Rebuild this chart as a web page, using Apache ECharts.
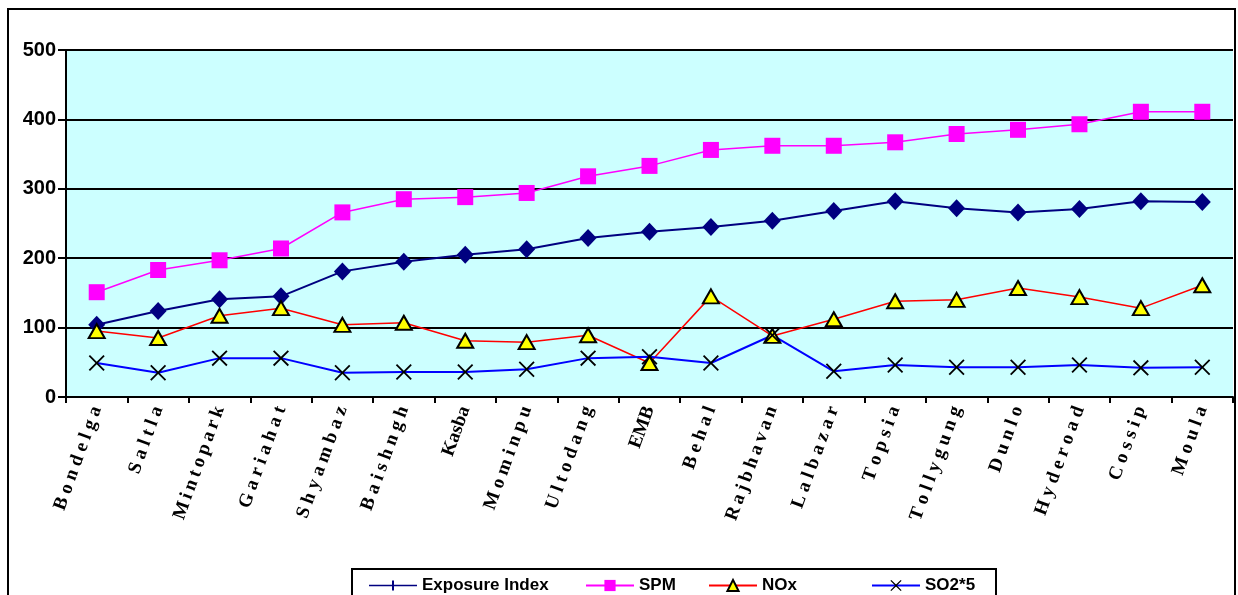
<!DOCTYPE html>
<html>
<head>
<meta charset="utf-8">
<script src="https://cdn.jsdelivr.net/npm/echarts@6/dist/echarts.min.js"></script>
<style>
  html, body { margin: 0; padding: 0; background: #ffffff; }
  #chart { width: 1238px; height: 595px; }
</style>
</head>
<body>
<div id="chart"></div>
<script>
// Monitoring sites (x axis)
const sites = ['B o n d e l g a', 'S a l t l a', 'M\u2009i\u2009n\u2009t\u2009o\u2009p\u2009a\u2009r\u2009k', 'G a r i a h a t', 'S h y a m b a z',
  'B a i s h n g h', 'Kasba', 'M o m i n p u', 'U l t o d a n g', 'EMB', 'B e h a l', 'R\u2009a\u2009j\u2009b\u2009h\u2009a\u2009v\u2009a\u2009n',
  'L a l b a z a r', 'T o p s i a', 'T o l l y g u n g', 'D u n l o', 'H y d e r o a d', 'C o s s i p', 'M o u l a'];

// Series values per site
const exposureIndex = [104, 124, 141, 145, 181, 195, 205, 213, 229, 238, 245, 254, 268, 282, 272, 266, 271, 282, 281];
const spm = [151, 183, 197, 214, 266, 285, 288, 294, 318, 333, 356, 362, 362, 367, 379, 385, 393, 411, 411];
const nox = [95, 85, 117, 128, 104, 107, 81, 79, 89, 49, 145, 88, 112, 138, 140, 157, 144, 128, 161];
const so2x5 = [49, 35, 56, 56, 35, 36, 36, 40, 56, 58, 49, 89, 37, 46, 43, 43, 46, 42, 43];

// Y axis ticks
const yTicks = [0, 100, 200, 300, 400, 500];

const crossPath = 'path://M0,0.8L0.8,0L5,4.2L9.2,0L10,0.8L5.8,5L10,9.2L9.2,10L5,5.8L0.8,10L0,9.2L4.2,5Z';
const plusLinePath = 'path://M0,4.2H48V5.8H0Z M23,0H25V10H23Z';

const chart = echarts.init(document.getElementById('chart'), null, { renderer: 'canvas' });

const legendText = { fontFamily: 'Liberation Sans, Arial, sans-serif', fontWeight: 'bold', fontSize: 17, color: '#000' };
function legendAt(left, name, extra) {
  return Object.assign({
    left: left, top: 577, orient: 'horizontal', itemWidth: 48, itemHeight: 14, itemGap: 0,
    selectedMode: false, textStyle: legendText, padding: 0,
    data: [name]
  }, extra || {});
}

chart.setOption({
  animation: false,
  backgroundColor: '#ffffff',
  grid: { left: 66, right: 5, top: 50, bottom: 198, show: true, backgroundColor: '#CCFFFF', borderWidth: 0 },
  graphic: [
    { type: 'rect', shape: { x: 8, y: 9, width: 1227, height: 640 }, style: { fill: 'none', stroke: '#000', lineWidth: 2 }, z: 100 },
    { type: 'rect', shape: { x: 352, y: 569, width: 644, height: 60 }, style: { fill: '#fff', stroke: '#000', lineWidth: 2 }, z: 0 }
  ],
  legend: [
    legendAt(369, 'Exposure Index', {
      data: [{
        name: 'Exposure Index', icon: plusLinePath,
        itemStyle: { color: '#000080', borderWidth: 0, opacity: 1 },
        lineStyle: { width: 0 }
      }]
    }),
    legendAt(585, 'SPM'),
    legendAt(708, 'NOx'),
    legendAt(871, 'SO2*5')
  ],
  xAxis: {
    type: 'category',
    data: sites,
    boundaryGap: true,
    axisLine: { show: true, lineStyle: { color: '#000', width: 2 } },
    axisTick: { show: true, interval: 0, length: 6, lineStyle: { color: '#000', width: 2 } },
    axisLabel: {
      interval: 0, rotate: 70, margin: 10,
      fontFamily: 'Liberation Serif, Times New Roman, serif', fontWeight: 'bold', fontSize: 19, color: '#000'
    },
    splitLine: { show: false }
  },
  yAxis: {
    type: 'value',
    min: yTicks[0], max: yTicks[yTicks.length - 1], interval: 100,
    axisLine: { show: true, lineStyle: { color: '#000', width: 2 } },
    axisTick: { show: true, length: 8, lineStyle: { color: '#000', width: 2 } },
    axisLabel: { margin: 10, fontFamily: 'Liberation Sans, Arial, sans-serif', fontWeight: 'bold', fontSize: 20, color: '#000' },
    splitLine: { show: true, lineStyle: { color: '#000', width: 2 } }
  },
  series: [
    {
      name: 'Exposure Index', type: 'line', data: exposureIndex,
      symbol: 'diamond', symbolSize: [17, 18],
      lineStyle: { color: '#000080', width: 2 },
      itemStyle: { color: '#000080' }
    },
    {
      name: 'SPM', type: 'line', data: spm,
      symbol: 'rect', symbolSize: 16,
      lineStyle: { color: '#FF00FF', width: 1.5 },
      itemStyle: { color: '#FF00FF' }
    },
    {
      name: 'NOx', type: 'line', data: nox,
      symbol: 'triangle', symbolSize: [16, 14],
      lineStyle: { color: '#FF0000', width: 1.5 },
      itemStyle: { color: '#FFFF00', borderColor: '#000', borderWidth: 2 }
    },
    {
      name: 'SO2*5', type: 'line', data: so2x5,
      symbol: crossPath, symbolSize: 16,
      lineStyle: { color: '#0000FF', width: 2 },
      itemStyle: { color: '#000' }
    }
  ]
});
</script>
</body>
</html>
